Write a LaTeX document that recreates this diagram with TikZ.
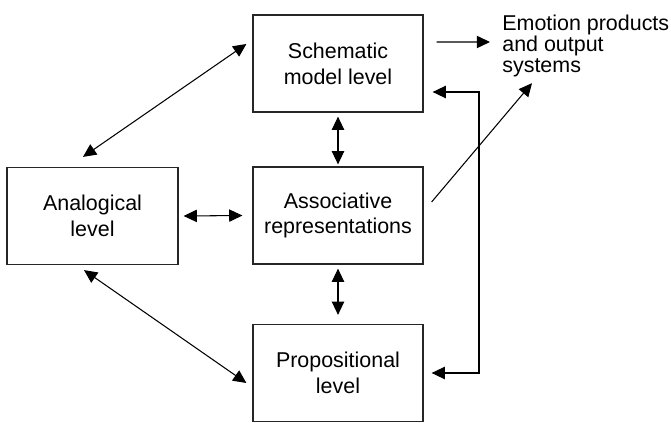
\documentclass[tikz,border=0pt]{standalone}
\usepackage{fontspec}
\setmainfont{Liberation Sans}
\usetikzlibrary{arrows.meta}
\tikzset{
  levelbox/.style={draw=black!85, line width=0.7pt, minimum width=3.4cm, minimum height=1.94cm, align=center, font=\fontsize{12.2}{14.7}\selectfont},
  link/.style={line width=0.6pt, {Triangle[length=7.5pt,width=7pt]}-{Triangle[length=7.5pt,width=7pt]}},
  feed/.style={line width=0.6pt, -{Triangle[length=7.5pt,width=7pt]}}
}
\begin{document}
\begin{tikzpicture}
                \useasboundingbox (0,0) rectangle (13.42,-8.46);
                \node[levelbox] (schematic) at (6.76,-1.27) {Schematic\\model level};
                \node[levelbox] (associative) at (6.76,-4.31) {Associative\\representations};
                \node[levelbox] (propositional) at (6.76,-7.46) {Propositional\\level};
                \node[levelbox, minimum width=3.42cm] (analogical) at (1.85,-4.32) {Analogical\\level};
                \node[anchor=north west, inner sep=0pt, align=left, font=\fontsize{12.2}{11.8}\selectfont] (emotion) at (10.04,-0.3) {Emotion products\\and output\\systems};
                \coordinate (loop) at (9.58,-4.6);
                \draw[link] ([shift={(-0.12,0.39)}]schematic.west) -- ([shift={(-0.19,0.2)}]analogical.north);
                \draw[link] ([xshift=0.1cm]analogical.east) -- ([xshift=-0.2cm]associative.west);
                \draw[link] ([yshift=-0.08cm]schematic.south) -- ([yshift=0.04cm]associative.north);
                \draw[link] ([yshift=-0.08cm]associative.south) -- ([yshift=0.18cm]propositional.north);
                \draw[link] ([shift={(-0.17,-0.1)}]analogical.south) -- ([shift={(-0.12,-0.2)}]propositional.west);
                \draw[link] ([shift={(0.18,-0.57)}]schematic.east) -| (loop) |- ([xshift=0.16cm]propositional.east);
                \draw[feed] ([shift={(0.26,0.43)}]schematic.east) -- ([shift={(-0.24,-0.54)}]emotion.north west);
                \draw[feed] ([shift={(0.16,0.27)}]associative.east) -- ([shift={(0.6,-0.12)}]emotion.south west);
            \end{tikzpicture}
\end{document}
